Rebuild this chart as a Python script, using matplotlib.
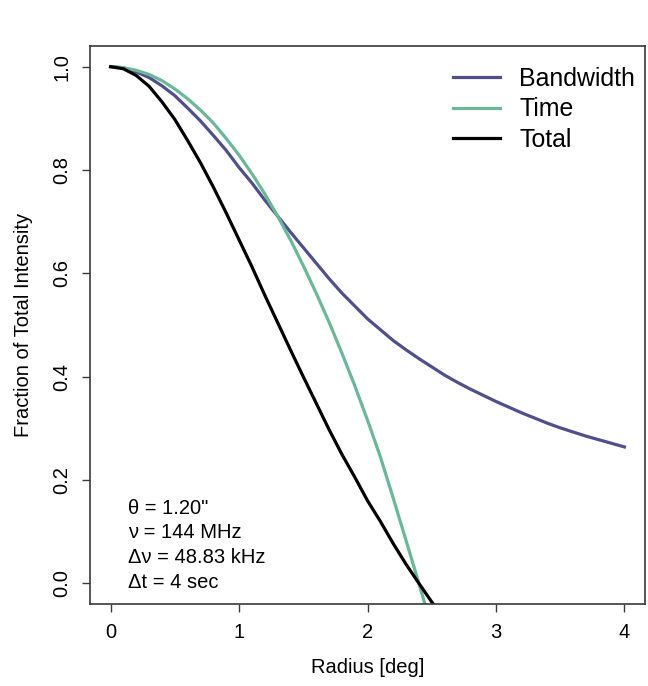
import matplotlib
matplotlib.use("Agg")
import matplotlib.pyplot as plt

plt.rcParams["font.family"] = ["Liberation Sans", "DejaVu Sans"]

# radius in degrees
radius = [0.0, 0.1, 0.2, 0.3, 0.4, 0.5, 0.6, 0.7, 0.8, 0.9, 1.0,
          1.1, 1.2, 1.3, 1.4, 1.5, 1.6, 1.7, 1.8, 1.9, 2.0,
          2.1, 2.2, 2.3, 2.4, 2.5, 2.6, 2.7, 2.8, 2.9, 3.0,
          3.1, 3.2, 3.3, 3.4, 3.5, 3.6, 3.7, 3.8, 3.9, 4.0]
bandwidth = [1.0, 0.998, 0.990, 0.979, 0.963, 0.944, 0.920, 0.895, 0.867, 0.838, 0.805,
             0.775, 0.742, 0.711, 0.680, 0.650, 0.620, 0.590, 0.562, 0.537, 0.512,
             0.491, 0.470, 0.452, 0.435, 0.419, 0.403, 0.389, 0.376, 0.364, 0.352,
             0.341, 0.330, 0.320, 0.310, 0.301, 0.293, 0.285, 0.278, 0.271, 0.264]

radius_t = [0.0, 0.1, 0.2, 0.3, 0.4, 0.5, 0.6, 0.7, 0.8, 0.9, 1.0,
            1.1, 1.2, 1.3, 1.4, 1.5, 1.6, 1.7, 1.8, 1.9, 2.0,
            2.1, 2.2, 2.3, 2.4, 2.5, 2.6]
time = [1.0, 0.998, 0.993, 0.985, 0.973, 0.957, 0.938, 0.916, 0.891, 0.861, 0.829,
        0.793, 0.754, 0.711, 0.665, 0.615, 0.562, 0.506, 0.446, 0.383, 0.316,
        0.245, 0.165, 0.083, 0.0, -0.085, -0.170]
total = [1.0, 0.996, 0.983, 0.962, 0.932, 0.898, 0.857, 0.814, 0.767, 0.717, 0.665,
         0.613, 0.558, 0.505, 0.452, 0.400, 0.349, 0.298, 0.250, 0.206, 0.160,
         0.120, 0.077, 0.037, 0.0, -0.036, -0.070]

notes = ["\u03b8 = 1.20\"", "\u03bd = 144 MHz", "\u0394\u03bd = 48.83 kHz", "\u0394t = 4 sec"]

col_bw = "#4f4f8c"
col_time = "#6bb797"
col_total = "black"
edge = "#3a3a3a"

fig = plt.figure(figsize=(6.48, 6.86), dpi=100)
ax = fig.add_axes([0.1389, 0.1195, 0.8565, 0.8134])

ax.plot(radius, bandwidth, color=col_bw, lw=2.3, label="Bandwidth")
ax.plot(radius_t, time, color=col_time, lw=2.3, label="Time")
ax.plot(radius_t, total, color=col_total, lw=2.3, label="Total")

ax.set_xlim(-0.16, 4.16)
ax.set_ylim(-0.04, 1.04)
ax.set_xticks([0, 1, 2, 3, 4])
ax.set_yticks([0.0, 0.2, 0.4, 0.6, 0.8, 1.0])
ax.set_yticklabels(["0.0", "0.2", "0.4", "0.6", "0.8", "1.0"], rotation=90, va="center")

for s in ax.spines.values():
    s.set_color(edge)
    s.set_linewidth(1.2)
ax.tick_params(direction="out", length=5.5, width=1.0, color=edge,
               labelsize=14.5, pad=8)

ax.set_xlabel("Radius [deg]", fontsize=14.5, labelpad=12)
ax.set_ylabel("Fraction of Total Intensity", fontsize=14.5, labelpad=14)

for i, t in enumerate(notes):
    ax.text(0.068, 0.172 - i * 0.0445, t, transform=ax.transAxes,
            fontsize=14.5, va="center", ha="left")

ax.legend(loc="upper left", bbox_to_anchor=(0.613, 1.003), frameon=False,
          fontsize=17.9, handlelength=1.89, handletextpad=0.8, labelspacing=0.27)

fig.savefig("out.png", dpi=100)
